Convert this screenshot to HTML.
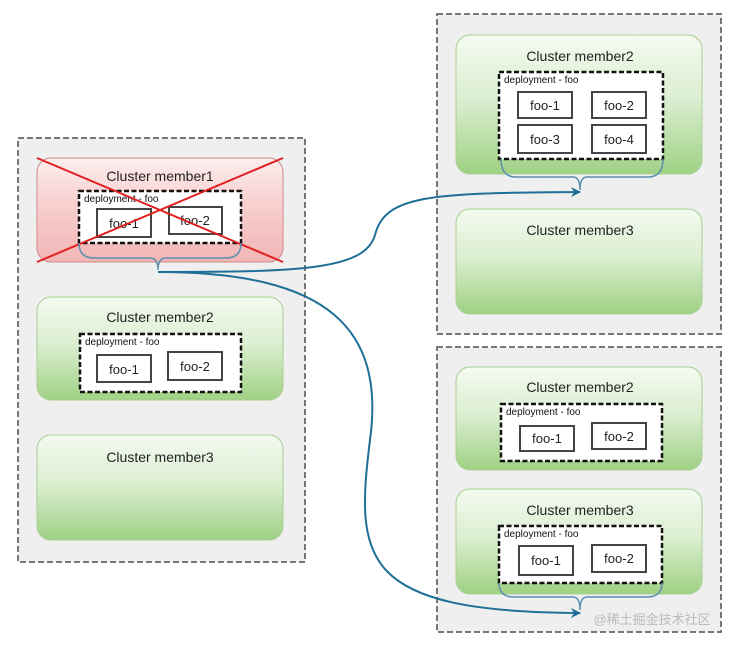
<!DOCTYPE html>
<html><head><meta charset="utf-8"><style>body{margin:0;background:#fff}svg{display:block}text{font-family:"Liberation Sans","Noto Sans CJK SC",sans-serif}</style></head><body>
<svg width="741" height="647" viewBox="0 0 741 647" xmlns="http://www.w3.org/2000/svg">
<defs>
<linearGradient id="g" x1="0" y1="0" x2="0" y2="1"><stop offset="0" stop-color="#f4faf0"/><stop offset="0.45" stop-color="#dcefd2"/><stop offset="1" stop-color="#9fd184"/></linearGradient>
<linearGradient id="r" x1="0" y1="0" x2="0" y2="1"><stop offset="0" stop-color="#fdeeee"/><stop offset="0.45" stop-color="#f8cfcf"/><stop offset="1" stop-color="#f3b5b5"/></linearGradient>
<marker id="a" markerWidth="10" markerHeight="10" refX="9" refY="5" orient="auto" markerUnits="userSpaceOnUse"><path d="M0,0 L10,5 L0,10 L3,5z" fill="#1f6f97"/></marker>
</defs>
<g fill="#efefef" stroke="#777" stroke-width="2" stroke-dasharray="6,3">
<rect x="18" y="138" width="287" height="424"/>
<rect x="437" y="14" width="284" height="320"/>
<rect x="437" y="347" width="284" height="285"/>
</g>
<g stroke-width="1">
<rect x="37" y="158" width="246" height="104" rx="14" fill="url(#r)" stroke="#c88"/>
<rect x="37" y="297" width="246" height="103" rx="14" fill="url(#g)" stroke="#a7cf93"/>
<rect x="37" y="435" width="246" height="105" rx="14" fill="url(#g)" stroke="#a7cf93"/>
<rect x="456" y="35" width="246" height="139" rx="14" fill="url(#g)" stroke="#a7cf93"/>
<rect x="456" y="209" width="246" height="105" rx="14" fill="url(#g)" stroke="#a7cf93"/>
<rect x="456" y="367" width="246" height="103" rx="14" fill="url(#g)" stroke="#a7cf93"/>
<rect x="456" y="489" width="246" height="105" rx="14" fill="url(#g)" stroke="#a7cf93"/>
</g>
<g font-size="14" fill="#222" text-anchor="middle">
<text x="160" y="181">Cluster member1</text>
<text x="160" y="322">Cluster member2</text>
<text x="160" y="462">Cluster member3</text>
<text x="580" y="61">Cluster member2</text>
<text x="580" y="235">Cluster member3</text>
<text x="580" y="392">Cluster member2</text>
<text x="580" y="515">Cluster member3</text>
</g>
<g fill="#fff" stroke="#111" stroke-width="2.5" stroke-dasharray="5,2.5">
<rect x="79" y="191" width="162" height="52"/>
<rect x="80" y="334" width="161" height="58"/>
<rect x="499" y="72" width="164" height="87"/>
<rect x="501" y="404" width="161" height="57"/>
<rect x="499" y="526" width="163" height="57"/>
</g>
<g font-size="10" fill="#111">
<text x="84" y="202">deployment - foo</text>
<text x="85" y="345">deployment - foo</text>
<text x="504" y="83">deployment - foo</text>
<text x="506" y="415">deployment - foo</text>
<text x="504" y="537">deployment - foo</text>
</g>
<g fill="none" stroke="#444" stroke-width="2">
<rect x="97" y="209" width="54" height="28"/><rect x="169" y="207" width="53" height="27"/>
<rect x="97" y="355" width="54" height="27"/><rect x="168" y="352" width="54" height="28"/>
<rect x="518" y="92" width="54" height="26"/><rect x="592" y="92" width="54" height="26"/>
<rect x="518" y="125" width="54" height="28"/><rect x="592" y="125" width="54" height="28"/>
<rect x="520" y="426" width="54" height="25"/><rect x="592" y="423" width="54" height="26"/>
<rect x="519" y="546" width="54" height="29"/><rect x="592" y="545" width="54" height="27"/>
</g>
<g font-size="13" fill="#222" text-anchor="middle">
<text x="124" y="228">foo-1</text><text x="195" y="225">foo-2</text>
<text x="124" y="374">foo-1</text><text x="195" y="371">foo-2</text>
<text x="545" y="110">foo-1</text><text x="619" y="110">foo-2</text>
<text x="545" y="144">foo-3</text><text x="619" y="144">foo-4</text>
<text x="547" y="443">foo-1</text><text x="619" y="441">foo-2</text>
<text x="546" y="565">foo-1</text><text x="619" y="563">foo-2</text>
</g>
<g stroke="#e02020" stroke-width="2"><line x1="37" y1="158" x2="283" y2="262"/><line x1="283" y1="158" x2="37" y2="262"/></g>
<g fill="none" stroke="#5b8fb0" stroke-width="1.5">
<path d="M79,243 Q79,258 94,258 L150,258 Q158,258 158,270 Q158,258 166,258 L226,258 Q241,258 241,243"/>
<path d="M501,159 Q501,177 516,177 L573,177 Q580,177 580,190 Q580,177 587,177 L648,177 Q663,177 663,159"/>
<path d="M499,583 Q499,597 514,597 L573,597 Q580,597 580,610 Q580,597 587,597 L647,597 Q662,597 662,583"/>
</g>
<g fill="none" stroke="#1f6f97" stroke-width="2">
<path d="M158,272 C300,272 365,270 375,235 C385,195 430,193 580,192" marker-end="url(#a)"/>
<path d="M158,272 C330,272 385,330 370,440 C355,560 360,612 580,613" marker-end="url(#a)"/>
</g>
<text x="652" y="624" font-size="13" fill="#bbb" text-anchor="middle">@稀土掘金技术社区</text>
</svg>
</body></html>
